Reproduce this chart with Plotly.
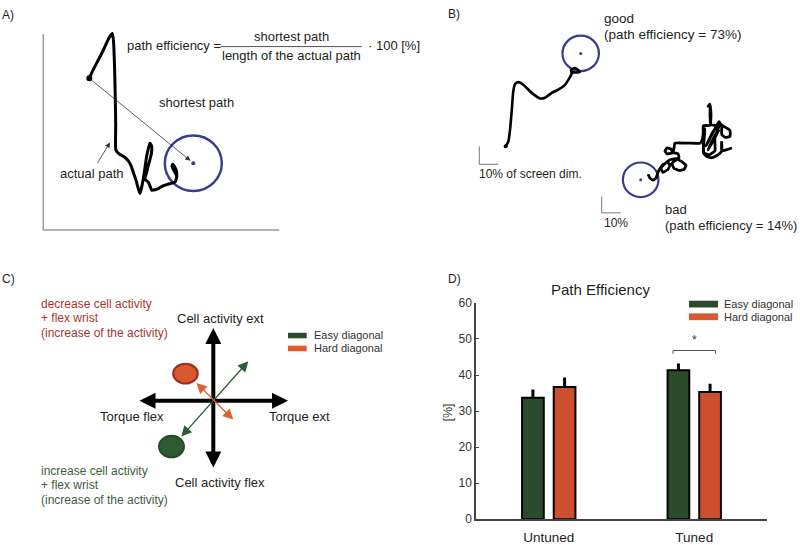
import plotly.graph_objects as go

# ---------------- Panel D data ----------------
groups = ["Untuned", "Tuned"]
easy_vals = [33.7, 41.3]
hard_vals = [36.7, 35.3]
easy_err = [2.3, 1.9]
hard_err = [2.6, 2.3]
y_ticks = [0, 10, 20, 30, 40, 50, 60]
series_names = ["Easy diagonal", "Hard diagonal"]

# ---------------- Panel A: traced path (page pixels) ----------------
pathA_x = [89.3, 93, 98, 103, 107, 110, 112.3, 113.5, 114.5, 115.2, 115.7, 115.8, 117, 120, 124, 128.3, 131, 133.3,
           136, 138.3, 140, 141.5, 143.3, 145, 146.7, 148.5, 150, 151.7, 151.5, 150, 148, 146.7, 145,
           146.5, 148.3, 150, 151.7, 155, 158.3, 162, 166.7, 171, 175, 176.7, 176.5, 175, 172.7, 172, 174, 177.3]
pathA_y = [73.3, 65, 55, 45, 36, 30, 27.3, 35, 60, 90, 120, 146.7, 149, 151.7, 154, 158.3, 163, 170,
           178, 186.7, 191.7, 186, 176.7, 165, 153.3, 145, 140, 143.3, 150, 156.7, 164, 170, 176.7,
           178.5, 180, 184, 188.3, 188, 186.7, 184.5, 182.7, 181.3, 180, 173.3, 169, 165, 161.7, 164, 168.3, 175]
startA = [89.3, 73.3]
targetA = [193.3, 160.7]

# ---------------- Panel B: traced paths ----------------
good_x = [505.7, 508.3, 510, 511.7, 513.3, 515, 518.3, 523.3, 531.7, 540, 545, 551.7, 558.3, 565, 568.3,
          571.7, 571, 575, 578.3, 580, 575, 571.7]
good_y = [143.3, 138.3, 126.7, 106.7, 86.7, 79.3, 77.3, 80, 88.3, 94, 93.3, 88.3, 85, 80, 75,
          68.3, 65, 62.7, 65, 66.7, 67.3, 66.7]
bad_x = [648, 650, 653, 656, 658, 660, 663, 667, 670, 668, 663, 661, 665, 670, 676, 680, 683, 686, 684, 679,
         674, 672, 675, 679, 678, 673, 667, 665, 667, 671, 673, 674, 675, 688, 700, 702, 703.3, 703.3, 710, 710,
         710, 708, 710, 711, 711, 716, 721.7, 726, 730, 730, 725, 721.7, 721.7, 719, 715, 711, 706, 712, 716, 720,
         717, 712, 708, 714, 719, 715, 715, 715, 709, 704, 703.3, 703.3, 705, 703.3, 707, 712, 718, 721.7, 721.7,
         721.7, 726, 732]
bad_y = [172, 176, 178, 176, 170, 166, 162, 160, 162, 167, 170, 166, 161, 157, 156, 158, 160, 163, 167, 168,
         166, 161, 158, 155, 151, 150, 151, 148, 145, 146, 150, 145, 140, 140, 140, 137, 130, 122, 121.7, 110,
         101, 102, 100, 110, 121, 121.7, 121.7, 124, 127, 133, 134, 131, 122, 118, 125, 133, 143, 130, 124, 119,
         128, 138, 147, 136, 126, 134, 142, 148, 152, 150, 140, 128, 125, 150, 154, 155, 152, 148, 138,
         148, 147, 145]
good_target = [580.7, 47.7]
bad_target = [640.7, 177.7]

GREEN = "#2c4a2c"
ORANGE = "#cc5030"
BLUE = "#3c3c8e"
TXT = "#231f20"
FONT = "Liberation Sans, Arial, sans-serif"

fig = go.Figure()

# ----- Panel D bars -----
fig.add_trace(go.Bar(x=groups, y=easy_vals, name=series_names[0], marker=dict(color=GREEN, line=dict(color="black", width=2)),
                     error_y=dict(type="data", symmetric=False, array=easy_err, arrayminus=[0, 0], color="black", thickness=3, width=0),
                     showlegend=False))
fig.add_trace(go.Bar(x=groups, y=hard_vals, name=series_names[1], marker=dict(color=ORANGE, line=dict(color="black", width=2)),
                     error_y=dict(type="data", symmetric=False, array=hard_err, arrayminus=[0, 0], color="black", thickness=3, width=0),
                     showlegend=False))

# ----- overlay drawings (page pixel coords) -----
def ov(**kw):
    kw.setdefault("xaxis", "x2")
    kw.setdefault("yaxis", "y2")
    kw.setdefault("showlegend", False)
    kw.setdefault("hoverinfo", "skip")
    return go.Scatter(**kw)

fig.add_trace(ov(x=pathA_x, y=pathA_y, mode="lines", line=dict(color="black", width=3, shape="spline", smoothing=0.6)))
fig.add_trace(ov(x=[startA[0]], y=[startA[1]], mode="markers", marker=dict(color="black", size=6)))
fig.add_trace(ov(x=good_x, y=good_y, mode="lines", line=dict(color="black", width=2.6, shape="spline", smoothing=0.6)))
fig.add_trace(ov(x=[good_x[0]], y=[good_y[0]], mode="markers", marker=dict(color="black", size=4)))
fig.add_trace(ov(x=bad_x, y=bad_y, mode="lines", line=dict(color="black", width=2.8, shape="spline", smoothing=0.4)))
for t in (targetA, good_target, bad_target):
    fig.add_trace(ov(x=[t[0]], y=[t[1]], mode="markers", marker=dict(color=BLUE, size=4 if t is targetA else 3)))

shapes = []
def circ(c, r, color, width, fill=None, lc=None):
    shapes.append(dict(type="circle", xref="x2", yref="y2", x0=c[0]-r[0], x1=c[0]+r[0], y0=c[1]-r[1], y1=c[1]+r[1],
                       line=dict(color=lc or color, width=width), fillcolor=fill or "rgba(0,0,0,0)", layer="below"))
circ(targetA, (28.5, 28.5), BLUE, 2.5)
circ(good_target, (18.2, 18.2), BLUE, 2.2)
circ(bad_target, (17.8, 17.8), BLUE, 2.2)
# panel C ellipses
circ((185.5, 377), (12.3, 10.2), ORANGE, 2, fill="#d9582f", lc="#a02a1e")
circ((171.5, 452), (12.5, 11), GREEN, 2, fill="#2e5a32", lc="#254a28")

def line(x0, y0, x1, y1, color, width, xref="x2", yref="y2"):
    shapes.append(dict(type="line", xref=xref, yref=yref, x0=x0, y0=y0, x1=x1, y1=y1, line=dict(color=color, width=width)))

# panel A axes
line(43.3, 28, 43.3, 229.3, "#9a9a9a", 1.5)
line(43.3, 229.3, 279.3, 229.3, "#9a9a9a", 1.5)
# fraction bar
line(220.7, 40.7, 361.7, 40.7, "#555555", 1)
# panel B scale bars
line(479.3, 143.3, 479.3, 161.7, "#777777", 1)
line(479.3, 161.7, 498.3, 161.7, "#777777", 1)
line(601.7, 195, 601.7, 211.7, "#777777", 1)
line(601.7, 211.7, 620.7, 211.7, "#777777", 1)
# legend boxes
def box(x0, x1, y0, y1, color):
    shapes.append(dict(type="rect", xref="x2", yref="y2", x0=x0, x1=x1, y0=y0, y1=y1, line=dict(width=0), fillcolor=color))
box(288, 306.7, 335, 340.7, GREEN)
box(288, 306.7, 348.3, 354, "#e05a2f")
box(689, 718, 302, 309, GREEN)
box(689, 718, 315, 322, "#d85a34")
# significance bracket (data coords of panel D)
for (x0, y0, x1, y1) in [(0.854, 46.8, 1.146, 46.8), (0.854, 46.8, 0.854, 45.9), (1.146, 46.8, 1.146, 45.9)]:
    line(x0, y0, x1, y1, "#555555", 1, xref="x", yref="y")

annotations = []
def txt(x, y, s, size=13, color=TXT, xanchor="left", angle=0, xref="x2", yref="y2"):
    annotations.append(dict(x=x, y=y, xref=xref, yref=yref, text=s, showarrow=False, xanchor=xanchor, yanchor="middle",
                            textangle=angle, font=dict(family=FONT, size=size, color=color)))
def arrow(x0, y0, x1, y1, color, width, head=2, size=1.0, both=False):
    annotations.append(dict(x=x1, y=y1, ax=x0, ay=y0, xref="x2", yref="y2", axref="x2", ayref="y2", text="",
                            showarrow=True, arrowhead=head, arrowsize=size, arrowwidth=width, arrowcolor=color,
                            arrowside="end+start" if both else "end", startarrowhead=head, startarrowsize=size))

# panel labels
txt(0, 8, "A)", 12)
txt(446, 7, "B)", 12)
txt(0, 280, "C)", 12)
txt(446, 280, "D)", 12)
# panel A
txt(125, 40, "path efficiency =", 13)
txt(291.7, 30.7, "shortest path", 13, xanchor="center")
txt(291.7, 50, "length of the actual path", 13, xanchor="center")
txt(366, 40, "· 100 [%]", 13)
txt(196.7, 97.7, "shortest path", 13, xanchor="center")
txt(91.7, 171.7, "actual path", 13, xanchor="center")
arrow(startA[0], startA[1], 190.5, 158.2, "#333333", 0.8, head=2, size=1.3)
arrow(96.7, 161.7, 110, 139.3, "#333333", 0.8, head=2, size=1.3)
# panel B
txt(601.7, 12.3, "good", 13.5)
txt(601.7, 28.3, "(path efficiency = 73%)", 13.5)
txt(477.3, 171.7, "10% of screen dim.", 12)
txt(601.7, 221.7, "10%", 12)
txt(663.3, 208.3, "bad", 13)
txt(662.5, 225, "(path efficiency = 14%)", 13)
# panel C
RED_T = "#a8382c"
GRN_T = "#3e5e3e"
for i, s in enumerate(["decrease cell activity", "+ flex wrist", "(increase of the activity)"]):
    txt(39, 305 + 15 * i, s, 12, RED_T)
for i, s in enumerate(["increase cell activity", "+ flex wrist", "(increase of the activity)"]):
    txt(39, 477.3 + 14.7 * i, s, 12, GRN_T)
txt(220, 320.7, "Cell activity ext", 13, xanchor="center")
txt(220, 489.3, "Cell activity flex", 13, xanchor="center")
txt(131.7, 421, "Torque flex", 13, xanchor="center")
txt(299.3, 421, "Torque ext", 13, xanchor="center")
txt(312, 337.7, series_names[0], 11, "#333333")
txt(312, 350.7, series_names[1], 11, "#333333")
arrow(138, 405, 288, 405, "black", 4, head=2, size=0.8, both=True)
arrow(213.3, 475, 213.3, 330, "black", 4, head=2, size=0.8, both=True)
arrow(180, 443.3, 248.3, 364.3, "#2d5a35", 1.3, head=2, size=1.6, both=True)
arrow(195, 385, 233.3, 424.3, "#e0602f", 1.3, head=2, size=1.6, both=True)
# panel D
txt(600, 290, "Path Efficiency", 15, xanchor="center")
txt(448, 417, "[%]", 12.5, "#333333", xanchor="center", angle=-90)
txt(722, 305.5, series_names[0], 11, "#333333")
txt(722, 318.5, series_names[1], 11, "#333333")
txt(1.0, 49.6, "*", 12, "#333333", xanchor="center", xref="x", yref="y")

fig.update_layout(
    width=800, height=545, margin=dict(l=0, r=0, t=0, b=0),
    paper_bgcolor="white", plot_bgcolor="rgba(0,0,0,0)",
    barmode="group", bargap=0.565, bargroupgap=0.314,
    font=dict(family=FONT, color=TXT),
    xaxis=dict(domain=[476/800, 767/800], type="category", range=[-0.5, 1.5], showline=True, linecolor="#444444", linewidth=1.5,
               ticks="", showgrid=False, zeroline=False, tickfont=dict(size=13.5, color="#222222"), anchor="y",
               ticklabelstandoff=5),
    yaxis=dict(domain=[1-526.7/545, 1-304.3/545], range=[0, 60], tickvals=y_ticks, ticks="inside", ticklen=3, tickcolor="#444444",
               showline=True, linecolor="#444444", linewidth=1.5, showgrid=False, zeroline=False,
               tickfont=dict(size=12, color="#333333"), anchor="x"),
    xaxis2=dict(domain=[0, 1], range=[0, 800], visible=False, anchor="y2", fixedrange=True),
    yaxis2=dict(domain=[0, 1], range=[545, 0], visible=False, anchor="x2", fixedrange=True),
    shapes=shapes, annotations=annotations,
)

fig.write_html("out.html", config={"displayModeBar": False},
               post_script="document.body.style.margin='0';document.body.style.overflow='hidden';")
